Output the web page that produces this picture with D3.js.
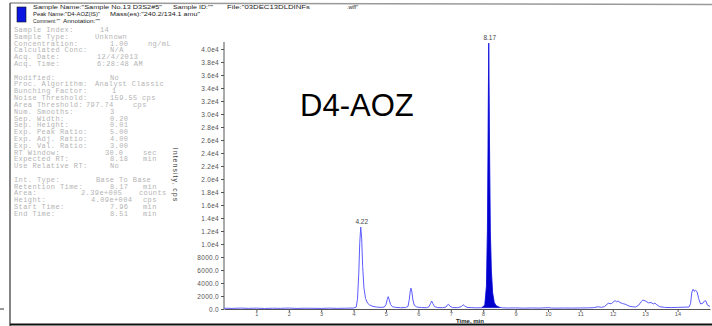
<!DOCTYPE html>
<html>
<head>
<meta charset="utf-8">
<script src="https://cdn.jsdelivr.net/npm/d3@7"></script>
<style>
  html, body { margin: 0; padding: 0; background: #fff; }
  svg { display: block; }
  .hdr { font-family: "Liberation Sans", Arial, sans-serif; font-size: 6px; fill: #222; }
  .info { font-family: "Liberation Mono", "DejaVu Sans Mono", monospace; font-size: 7px; fill: #b4b4b4; letter-spacing: 0.4px; }
  .tick text { font-family: "Liberation Sans", Arial, sans-serif; font-size: 6.5px; fill: #555; letter-spacing: 0.3px; }
  .ax path, .ax line { stroke: #555; }
</style>
</head>
<body>
<svg id="chart" width="712" height="326"></svg>
<script>
// Chromatogram trace: retention time (min) and intensity (cps)
const times = [
  0.00, 0.25, 0.50, 0.75, 1.00, 1.25, 1.50, 1.75, 2.00, 2.25, 2.50, 2.75, 3.00, 3.25, 3.50, 3.75,
  4.00, 4.08, 4.12, 4.16, 4.19, 4.22, 4.25, 4.28, 4.32, 4.37, 4.43, 4.50, 4.60, 4.70, 4.85, 4.95,
  5.00, 5.04, 5.07, 5.10, 5.14, 5.20, 5.30, 5.45, 5.60, 5.68, 5.72, 5.75, 5.77, 5.80, 5.83, 5.87,
  5.95, 6.10, 6.25, 6.33, 6.37, 6.41, 6.45, 6.50, 6.60, 6.75, 6.85, 6.90, 6.93, 6.97, 7.05, 7.20,
  7.32, 7.38, 7.42, 7.50, 7.65, 7.80, 7.96, 8.05, 8.10, 8.13, 8.15, 8.17, 8.18, 8.20, 8.22, 8.25,
  8.29, 8.34, 8.40, 8.51, 8.60, 8.75, 9.00, 9.25, 9.50, 9.75, 10.00, 10.10, 10.25, 10.50, 10.75, 11.00,
  11.25, 11.40, 11.55, 11.65, 11.75, 11.86, 11.95, 12.00, 12.07, 12.12, 12.16, 12.22, 12.30, 12.40, 12.50, 12.60,
  12.70, 12.80, 12.88, 12.93, 13.00, 13.10, 13.18, 13.25, 13.30, 13.36, 13.45, 13.60, 13.80, 14.00, 14.20, 14.35,
  14.40, 14.44, 14.48, 14.52, 14.55, 14.60, 14.65, 14.71, 14.78, 14.84, 14.87, 14.92, 15.00
];
const intensity = [
  120, 90, 140, 100, 130, 80, 120, 100, 140, 90, 120, 110, 90, 130, 100, 120,
  150, 300, 1500, 5500, 10200, 12600, 10800, 6500, 3200, 1600, 900, 600, 400, 300, 250, 300,
  700, 1500, 1900, 1400, 700, 350, 250, 200, 220, 400, 1500, 2800, 3200, 2600, 1400, 600,
  300, 220, 200, 350, 800, 1230, 800, 350, 220, 200, 300, 650, 720, 450, 220, 200,
  350, 660, 500, 250, 200, 180, 200, 600, 3500, 12000, 25000, 40900, 34800, 22000, 12000, 6000,
  2500, 1000, 500, 250, 180, 150, 170, 130, 160, 140, 200, 150, 130, 150, 140, 160,
  170, 200, 350, 250, 400, 880, 800, 1000, 1300, 1100, 1250, 1000, 850, 700, 450, 350,
  300, 600, 1150, 1380, 1250, 950, 1000, 780, 900, 650, 350, 250, 220, 250, 280, 300,
  800, 2600, 3030, 2700, 2900, 2660, 1600, 770, 900, 1280, 1250, 600, 400
];

// Integrated peak window (base to base)
const peakStart = 7.96, peakEnd = 8.51;

// Labelled apexes
const apexTimes = [4.22, 8.17];
const apexHeights = [12600, 40900];

// Axis ticks
const yTicks = d3.range(0, 40001, 2000);
const xTicks = d3.range(1, 15);

// Header entries: text, left x, fitted width, row
const headerTexts = [
  'Sample Name:"Sample No.13 D3S2#5"', 'Sample ID:""', 'File:"03DEC13DLDINFs', '.wiff"',
  'Peak Name:"D4-AOZ(IS)"', 'Mass(es):"240.2/134.1 amu"',
  'Comment:""', 'Annotation:""'
];
const headerX = [33, 173, 227, 347, 33, 110, 33, 63];
const headerW = [129, 40, 83, 11, 67, 90, 27, 37];
const headerRow = [0, 0, 0, 0, 1, 1, 2, 2];

// Processing parameters panel: [label, value, unit]
const infoLabels = [
  "Sample Index:", "Sample Type:", "Concentration:", "Calculated Conc:", "Acq. Date:", "Acq. Time:", "",
  "Modified:", "Proc. Algorithm:", "Bunching Factor:", "Noise Threshold:", "Area Threshold:", "Num. Smooths:",
  "Sep. Width:", "Sep. Height:", "Exp. Peak Ratio:", "Exp. Adj. Ratio:", "Exp. Val. Ratio:", "RT Window:",
  "Expected RT:", "Use Relative RT:", "",
  "Int. Type:", "Retention Time:", "Area:", "Height:", "Start Time:", "End Time:"
];
const infoValues = [
  "14", "Unknown", "1.00", "N/A", "12/4/2013", "6:28:48 AM", "",
  "No", "Analyst Classic", "1", "159.55", "797.74", "3",
  "0.20", "0.01", "5.00", "4.00", "3.00", "30.0",
  "8.18", "No", "",
  "Base To Base", "8.17", "2.39e+005", "4.09e+004", "7.96", "8.51"
];
const infoUnits = [
  "", "", "ng/mL", "", "", "", "",
  "", "", "", "cps", "cps", "",
  "", "", "", "", "", "sec",
  "min", "", "",
  "", "min", "counts", "cps", "min", "min"
];

const svg = d3.select("#chart");

// Page frame
svg.append("line").attr("x1", 10).attr("x2", 712).attr("y1", 3).attr("y2", 4.5)
  .attr("stroke", "#9a9a9a").attr("stroke-width", 1.6);
svg.append("line").attr("x1", 10).attr("x2", 10).attr("y1", 3).attr("y2", 326)
  .attr("stroke", "#333").attr("stroke-width", 1.2);
svg.append("line").attr("x1", 10).attr("x2", 712).attr("y1", 324.5).attr("y2", 324.5)
  .attr("stroke", "#111").attr("stroke-width", 2);
svg.append("line").attr("x1", 0).attr("x2", 4).attr("y1", 309).attr("y2", 309)
  .attr("stroke", "#333").attr("stroke-width", 1);

// Header block
svg.append("rect").attr("x", 17).attr("y", 7).attr("width", 9).attr("height", 15)
  .attr("fill", "#0b16e0").attr("stroke", "#111").attr("stroke-width", 0.6);
headerTexts.forEach((t, i) => {
  svg.append("text").attr("class", "hdr")
    .attr("x", headerX[i]).attr("y", 9 + headerRow[i] * 7.2)
    .attr("textLength", headerW[i]).attr("lengthAdjust", "spacingAndGlyphs")
    .text(t);
});

// Parameters panel
const valueX = [
  100, 95, 110, 110, 97, 97, 0,
  110, 95, 112, 110, 86, 110,
  110, 110, 110, 110, 110, 105,
  110, 110, 0,
  96, 110, 81, 91, 110, 110
];
const unitX = [
  0, 0, 148, 0, 0, 0, 0,
  0, 0, 0, 142, 133, 0,
  0, 0, 0, 0, 0, 143,
  143, 0, 0,
  0, 143, 139, 143, 143, 143
];
infoLabels.forEach((lab, i) => {
  if (!lab) return;
  const yb = 32 + i * 6.81;
  svg.append("text").attr("class", "info").attr("x", 14).attr("y", yb).text(lab);
  svg.append("text").attr("class", "info").attr("x", valueX[i]).attr("y", yb).text(infoValues[i]);
  if (infoUnits[i]) svg.append("text").attr("class", "info").attr("x", unitX[i]).attr("y", yb).text(infoUnits[i]);
});

// Scales
const x = d3.scaleLinear().domain([0, 15]).range([224, 710]);
const y = d3.scaleLinear().domain([0, 40000]).range([309, 49]);

// Y axis
const fmtY = v => v >= 10000 ? (v / 10000).toFixed(1) + "e4" : v.toFixed(1);
const gy = svg.append("g").attr("class", "ax").attr("transform", "translate(224,0)")
  .call(d3.axisLeft(y).tickValues(yTicks).tickFormat(fmtY).tickSize(3).tickSizeOuter(0).tickPadding(2));
gy.select(".domain").remove();
gy.append("line").attr("x1", 0).attr("x2", 0).attr("y1", 42).attr("y2", 309)
  .attr("stroke", "#555").attr("stroke-width", 1);

// X axis
const gx = svg.append("g").attr("class", "ax").attr("transform", "translate(0,309)")
  .call(d3.axisBottom(x).tickValues(xTicks).tickFormat(d3.format("d")).tickSize(3).tickSizeOuter(0).tickPadding(0));
gx.select(".domain").attr("stroke", "#777");
gx.selectAll(".tick text").style("font-size", "5.5px");

// Axis titles
svg.append("text")
  .attr("transform", "translate(173,175) rotate(90)")
  .attr("text-anchor", "middle")
  .style("font-family", "Liberation Sans, Arial, sans-serif")
  .style("font-size", "7px").style("letter-spacing", "1px").style("fill", "#444")
  .text("Intensity, cps");
svg.append("text")
  .attr("x", 470).attr("y", 323).attr("text-anchor", "middle")
  .style("font-family", "Liberation Sans, Arial, sans-serif")
  .style("font-size", "6px").style("font-weight", "bold").style("fill", "#222")
  .text("Time, min");

// Trace
const pts = times.map((t, i) => ({ t, v: intensity[i] }));
const line = d3.line().x(d => x(d.t)).y(d => y(d.v));
svg.append("path").datum(pts).attr("d", line)
  .attr("fill", "none").attr("stroke", "#5c5cff").attr("stroke-width", 1);

// Integrated peak fill
const inPeak = pts.filter(d => d.t >= peakStart && d.t <= peakEnd);
const area = d3.area().x(d => x(d.t)).y0(y(intensity[times.indexOf(peakStart)]))
  .y1(d => y(d.v));
svg.append("path").datum(inPeak).attr("d", area)
  .attr("fill", "#0000cc").attr("stroke", "#0000cc").attr("stroke-width", 0.4);

// Apex labels
apexTimes.forEach((t, i) => {
  svg.append("text").attr("x", x(t) + 1).attr("y", y(apexHeights[i]) - 3)
    .attr("text-anchor", "middle")
    .style("font-family", "Liberation Sans, Arial, sans-serif")
    .style("font-size", "6.5px").style("fill", "#444")
    .text(t.toFixed(2));
});

// Compound name
svg.append("text").attr("x", 300).attr("y", 116)
  .style("font-family", "Liberation Sans, Arial, sans-serif")
  .style("font-size", "31px").style("fill", "#000")
  .text("D4-AOZ");
</script>
</body>
</html>
